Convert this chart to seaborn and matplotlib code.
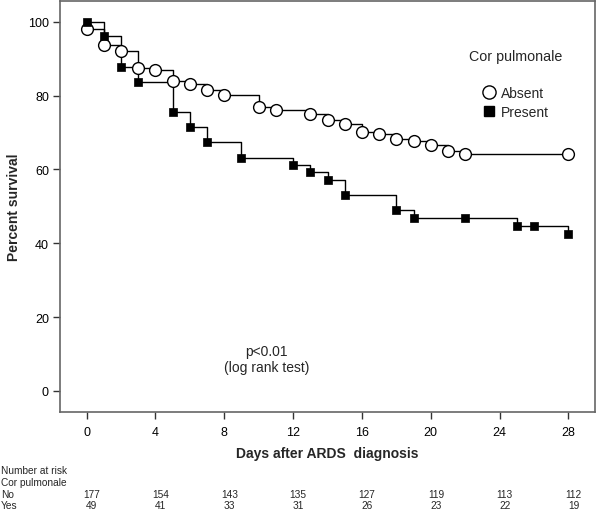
import numpy as np
import pandas as pd
import matplotlib
matplotlib.use('Agg')
import matplotlib.pyplot as plt
import seaborn as sns
from matplotlib.lines import Line2D
from matplotlib.transforms import blended_transform_factory

# Kaplan-Meier curves
absent_days = [0, 1, 2, 3, 4, 5, 6, 7, 8, 10, 11, 13, 14, 15, 16, 17, 18, 19, 20, 21, 22, 28]
absent_surv = [98.1, 93.7, 92.1, 87.5, 86.8, 84.0, 83.0, 81.4, 80.2, 76.8, 76.2, 75.1,
               73.3, 72.2, 70.1, 69.5, 68.3, 67.6, 66.6, 64.9, 64.3, 64.3]

present_days = [0, 1, 2, 3, 5, 6, 7, 9, 12, 13, 14, 15, 18, 19, 22, 25, 26, 28]
present_surv = [100, 96.0, 87.8, 83.6, 75.5, 71.4, 67.4, 63.2, 61.2, 59.2, 57.2, 53.1,
                49.0, 46.8, 46.8, 44.7, 44.7, 42.6]

# Number at risk table
risk_days = [0, 4, 8, 12, 16, 20, 24, 28]
risk_no = [177, 154, 143, 135, 127, 119, 113, 112]
risk_yes = [49, 41, 33, 31, 26, 23, 22, 19]

sns.set_theme(style="white")
plt.rcParams['font.family'] = ['Liberation Sans', 'DejaVu Sans']

fig = plt.figure(figsize=(5.96, 5.10), dpi=100)
ax = fig.add_axes([60 / 596, 1 - 413 / 510, 535 / 596, 411 / 510])

df_abs = pd.DataFrame({'day': absent_days, 'surv': absent_surv})
df_pre = pd.DataFrame({'day': present_days, 'surv': present_surv})

# step lines
sns.lineplot(data=df_abs, x='day', y='surv', drawstyle='steps-post', color='black',
             lw=1.0, ax=ax, zorder=2)
sns.lineplot(data=df_pre, x='day', y='surv', drawstyle='steps-post', color='black',
             lw=1.0, ax=ax, zorder=2)

# markers
sns.scatterplot(data=df_abs, x='day', y='surv', marker='o', s=72, color='white',
                edgecolor='black', linewidth=1.0, ax=ax, zorder=3)
sns.scatterplot(data=df_pre, x='day', y='surv', marker='s', s=30, color='black',
                edgecolor='black', linewidth=0.5, ax=ax, zorder=3)

ax.set_xlim(-1.55, 29.55)
ax.set_ylim(-5.7, 105.6)
ax.set_xticks(risk_days)
ax.set_yticks([0, 20, 40, 60, 80, 100])

for sp in ax.spines.values():
    sp.set_color('#666666')
    sp.set_linewidth(1.2)
ax.tick_params(axis='both', bottom=True, left=True, direction='out', length=5, width=1.0,
               color='#333333', labelsize=9, labelcolor='black')
ax.tick_params(axis='x', pad=5)
ax.tick_params(axis='y', pad=3)

ax.set_xlabel('Days after ARDS  diagnosis', fontsize=10, fontweight='bold', labelpad=6)
ax.set_ylabel('Percent survival', fontsize=10, fontweight='bold', labelpad=5)

# p-value annotation
ax.text(10.45, 10.8, 'p<0.01', ha='center', va='center', fontsize=10)
ax.text(10.45, 6.5, '(log rank test)', ha='center', va='center', fontsize=10)

# legend
fig.text(516 / 596, 1 - 57 / 510, 'Cor pulmonale', ha='center', va='center', fontsize=10.3)
handles = [
    Line2D([], [], marker='o', ls='', mfc='white', mec='black', mew=1.0, ms=9.5),
    Line2D([], [], marker='s', ls='', mfc='black', mec='black', ms=6.5),
]
ax.legend(handles, ['Absent', 'Present'], frameon=False, fontsize=10,
          loc='upper left', bbox_to_anchor=(475 / 596, 1 - 80 / 510),
          bbox_transform=fig.transFigure, handlelength=1.0, handletextpad=0.35,
          labelspacing=0.35, borderpad=0)

# number at risk table
tr = blended_transform_factory(ax.transData, fig.transFigure)
fs_tab = 7.3
fig.text(0.002, 1 - 471 / 510, 'Number at risk', ha='left', va='center', fontsize=fs_tab)
fig.text(0.002, 1 - 483 / 510, 'Cor pulmonale', ha='left', va='center', fontsize=fs_tab)
fig.text(0.002, 1 - 495 / 510, 'No', ha='left', va='center', fontsize=fs_tab)
fig.text(0.002, 1 - 506 / 510, 'Yes', ha='left', va='center', fontsize=fs_tab)
for d, n_no, n_yes in zip(risk_days, risk_no, risk_yes):
    ax.text(d + 0.3, 1 - 495 / 510, str(n_no), transform=tr, ha='center', va='center',
            fontsize=fs_tab, clip_on=False)
    ax.text(d + 0.3, 1 - 506 / 510, str(n_yes), transform=tr, ha='center', va='center',
            fontsize=fs_tab, clip_on=False)

fig.savefig('out.png', dpi=100)
